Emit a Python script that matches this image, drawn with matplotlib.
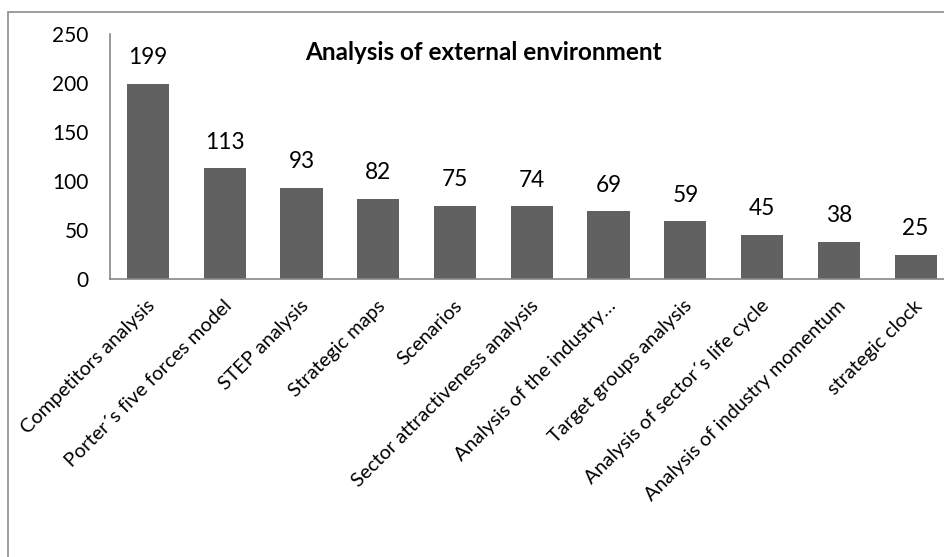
import matplotlib
matplotlib.use("Agg")
import matplotlib.pyplot as plt
import matplotlib.transforms as mtransforms
from matplotlib.patches import Rectangle
import numpy as np

plt.rcParams['font.family'] = ['Lato', 'DejaVu Sans']

categories = [
    "Competitors analysis",
    "Porter´s five forces model",
    "STEP analysis",
    "Strategic maps",
    "Scenarios",
    "Sector attractiveness analysis",
    "Analysis of the industry…",
    "Target groups analysis",
    "Analysis of sector´s life cycle",
    "Analysis of industry momentum",
    "strategic clock",
]
values = [199, 113, 93, 82, 75, 74, 69, 59, 45, 38, 25]
yticks = [0, 50, 100, 150, 200, 250]

W, H = 945, 557
fig = plt.figure(figsize=(W / 100, H / 100), dpi=100)

# outer chart frame (right/bottom edges are outside the picture)
fig.patches.append(Rectangle((8 / W, -0.1), 1.2, 1 - 12 / H + 0.1,
                             transform=fig.transFigure, fill=False,
                             edgecolor="#8c8c8c", linewidth=1.2))

ax = fig.add_axes([109.6 / W, 1 - 279 / H, 844.4 / W, 245 / H])
x = np.arange(len(categories))
ax.bar(x, values, width=0.55, color="#616161", zorder=2)

for xi, v in zip(x, values):
    ax.text(xi, v + 20, str(v), ha="center", va="baseline", fontsize=16.3)

ax.set_xlim(-0.5, len(categories) - 0.5)
ax.set_ylim(0, 250)
ax.set_yticks(yticks)
ax.tick_params(axis="y", length=0, pad=15, labelsize=15)
ax.tick_params(axis="x", length=0, pad=13)
ax.set_xticks(x)
ax.set_xticklabels(categories, rotation=45, ha="right", va="top",
                   rotation_mode="anchor", fontsize=14.3)
shift = mtransforms.ScaledTranslation(-2 / 100, 0, fig.dpi_scale_trans)
for lab in ax.get_xticklabels():
    lab.set_transform(lab.get_transform() + shift)

for s in ["top", "right"]:
    ax.spines[s].set_visible(False)
for s in ["left", "bottom"]:
    ax.spines[s].set_color("#868686")
    ax.spines[s].set_linewidth(1.2)

fig.text(483 / W, 1 - 52 / H, "Analysis of external environment",
         ha="center", va="center", fontsize=17.5, fontweight="bold")

fig.savefig("out.png", dpi=100)
